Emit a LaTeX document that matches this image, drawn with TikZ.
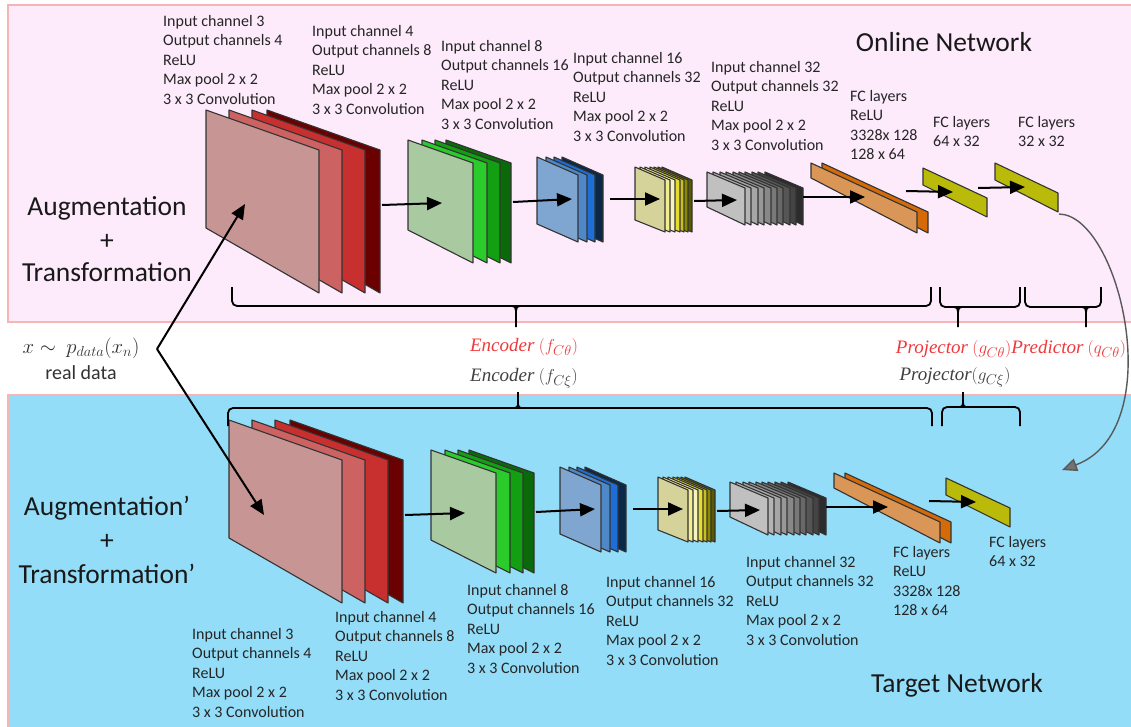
\documentclass[tikz,border=0pt]{standalone}
\usepackage{fontspec}
\setmainfont{Carlito}
\newfontfamily\lblfont{Liberation Serif}
\usetikzlibrary{arrows.meta}
\definecolor{pinkbg}{HTML}{FDEAFB}
\definecolor{pinkln}{HTML}{F5B5B5}
\definecolor{bluebg}{HTML}{93DDF8}
\definecolor{redlbl}{HTML}{F0383C}
\definecolor{greylbl}{HTML}{404040}
\definecolor{rA}{HTML}{C89595}\definecolor{rB}{HTML}{CC6262}\definecolor{rC}{HTML}{C83030}\definecolor{rD}{HTML}{6A0000}
\definecolor{gA}{HTML}{A9C9A1}\definecolor{gB}{HTML}{2BCB2B}\definecolor{gC}{HTML}{12A012}\definecolor{gD}{HTML}{0A6A0A}
\definecolor{bA}{HTML}{7EA6D0}\definecolor{bB}{HTML}{4E88C8}\definecolor{bC}{HTML}{1E6ED8}\definecolor{bD}{HTML}{0A2848}
\definecolor{yA}{HTML}{D5D29A}\definecolor{yB}{HTML}{F2EE90}\definecolor{yC}{HTML}{F5F3C0}\definecolor{yD}{HTML}{E6DC30}
\definecolor{yE}{HTML}{C8C020}\definecolor{yF}{HTML}{8A8A00}\definecolor{yG}{HTML}{5A5A00}
\definecolor{kA}{HTML}{C0C0C0}\definecolor{kB}{HTML}{B4B4B4}\definecolor{kC}{HTML}{A6A6A6}\definecolor{kD}{HTML}{989898}
\definecolor{kE}{HTML}{888888}\definecolor{kF}{HTML}{787878}\definecolor{kG}{HTML}{686868}\definecolor{kH}{HTML}{555555}
\definecolor{kI}{HTML}{444444}\definecolor{kJ}{HTML}{2C2C2C}
\definecolor{oA}{HTML}{D99657}\definecolor{oB}{HTML}{D46A08}
\definecolor{fcy}{HTML}{B9BA0A}
\newcommand\mkstack[2]{\foreach \dx/\cc in {#2} {\filldraw[plane, fill=\cc, xshift=\dx pt] #1;}}
\newcommand\mkbrace[6]{% L R top h tipx tipend
  \draw[bracel, rounded corners=5pt] (#1,#3) -- (#1,#4) -- (#2,#4) -- (#2,#3);
  \draw[bracel] (#5-7,#4) .. controls (#5,#4) .. (#5,#4/2+#6/2) -- (#5,#6);
  \draw[bracel] (#5+7,#4) .. controls (#5,#4) .. (#5,#4/2+#6/2);}
\begin{document}
\begin{tikzpicture}[x=1pt,y=-1pt,
  plane/.style={draw=black!80, line width=1.1pt, line join=round},
  conn/.style={line width=2pt, -{Triangle[length=15pt,width=13pt]}},
  bracel/.style={line width=1.8pt, black},
  small/.style={font=\fontsize{16}{19.5}\selectfont, align=left, anchor=north west, inner sep=0pt, text=black!85, execute at begin node={\rule{0pt}{12pt}}},
  big/.style={font=\fontsize{27.5}{32}\selectfont, anchor=base, inner sep=0pt, text=black!90},
  mlbl/.style={font=\fontsize{19}{22}\selectfont, inner sep=0pt}]
\useasboundingbox (0,0) rectangle (1131,726);
\fill[white] (0,0) rectangle (1131,726);
\filldraw[fill=pinkbg, draw=pinkln, line width=1.2pt] (8,5) rectangle (1133,322);
\filldraw[fill=bluebg, draw=pinkln, line width=1.2pt] (8,395) rectangle (1133,728);

% ---------- network drawing (used twice) ----------
\foreach \sx/\sy/\nm in {0/0/t, 23/310/b} {
\begin{scope}[shift={(\sx,\sy)}]
\mkstack{(206,110)--(319,150)--(319,293)--(206,228)--cycle}{61/rD,46/rC,23/rB,0/rA}
\mkstack{(408,140)--(473,163)--(473,263)--(408,230)--cycle}{38/gD,27/gC,14/gB,0/gA}
\mkstack{(537,157)--(578,175)--(578,242)--(537,224)--cycle}{25/bD,17/bC,9/bB,0/bA}
\mkstack{(635,167)--(665,180)--(665,232)--(635,220)--cycle}{27/yG,23/yF,19/yE,15/yD,10/yC,5/yB,0/yA}
\mkstack{(707,172)--(745,188)--(745,225)--(707,207)--cycle}{58/kJ,51/kI,45/kH,38/kG,32/kF,26/kE,19/kD,13/kC,6/kB,0/kA}
\mkstack{(811,163)--(917,212)--(917,233)--(811,178)--cycle}{11/oB,0/oA}
\coordinate (\nm a1s) at (382,205); \coordinate (\nm a1e) at (442,203);
\coordinate (\nm a2s) at (513,202); \coordinate (\nm a2e) at (572,199);
\coordinate (\nm a3s) at (610,199); \coordinate (\nm a3e) at (660,199);
\coordinate (\nm a4s) at (694,201); \coordinate (\nm a4e) at (737,200);
\coordinate (\nm a5s) at (803,197); \coordinate (\nm a5e) at (865,197);
\filldraw[plane, fill=fcy] (923,168)--(987,198)--(987,217)--(923,185)--cycle;
\coordinate (\nm a6s) at (906,191); \coordinate (\nm a6e) at (953,192);
\foreach \k in {1,...,6} {\draw[conn] (\nm a\k s) -- (\nm a\k e);}
\end{scope}}
% predictor (online only)
\filldraw[plane, fill=fcy] (995,163)--(1058,193)--(1058,212)--(995,180)--cycle;
\coordinate (ta7s) at (978,188); \coordinate (ta7e) at (1025,187);
\draw[conn] (ta7s) -- (ta7e);

% ---------- texts online ----------
\node[small] (t1) at (163,15) {Input channel 3\\Output channels 4\\ReLU\\Max pool 2 x 2\\3 x 3 Convolution};
\node[small] (t2) at (312,25) {Input channel 4\\Output channels 8\\ReLU\\Max pool 2 x 2\\3 x 3 Convolution};
\node[small] (t3) at (441,40) {Input channel 8\\Output channels 16\\ReLU\\Max pool 2 x 2\\3 x 3 Convolution};
\node[small] (t4) at (573,52) {Input channel 16\\Output channels 32\\ReLU\\Max pool 2 x 2\\3 x 3 Convolution};
\node[small] (t5) at (711,61) {Input channel 32\\Output channels 32\\ReLU\\Max pool 2 x 2\\3 x 3 Convolution};
\node[small] (t6) at (850,90) {FC layers\\ReLU\\3328x 128\\128 x 64};
\node[small] (t7) at (933,116) {FC layers\\64 x 32};
\node[small] (t8) at (1018,116) {FC layers\\32 x 32};
% ---------- texts target ----------
\node[small] (b1) at (192,628) {Input channel 3\\Output channels 4\\ReLU\\Max pool 2 x 2\\3 x 3 Convolution};
\node[small] (b2) at (335,611) {Input channel 4\\Output channels 8\\ReLU\\Max pool 2 x 2\\3 x 3 Convolution};
\node[small] (b3) at (467,584) {Input channel 8\\Output channels 16\\ReLU\\Max pool 2 x 2\\3 x 3 Convolution};
\node[small] (b4) at (606,576) {Input channel 16\\Output channels 32\\ReLU\\Max pool 2 x 2\\3 x 3 Convolution};
\node[small] (b5) at (746,556) {Input channel 32\\Output channels 32\\ReLU\\Max pool 2 x 2\\3 x 3 Convolution};
\node[small] (b6) at (893,546) {FC layers\\ReLU\\3328x 128\\128 x 64};
\node[small] (b7) at (989,536) {FC layers\\64 x 32};

% ---------- big labels ----------
\node[big] (aug1) at (107,215) {Augmentation};
\node[big] (plus1) at (107,249) {+};
\node[big] (tr1) at (107,281) {Transformation};
\node[big] (aug2) at (107,515) {Augmentation’};
\node[big] (plus2) at (107,549) {+};
\node[big] (tr2) at (107,583) {Transformation’};
\node[big] (online) at (944,51) {Online Network};
\node[big] (target) at (957,692) {Target Network};

% ---------- braces ----------
\mkbrace{232}{931}{287}{306}{516}{327}
\mkbrace{940}{1020}{287}{307}{958}{327}
\mkbrace{1025}{1101}{287}{307}{1086}{327}
\mkbrace{228}{932}{426}{408}{518}{392}
\mkbrace{942}{1020}{426}{407}{963}{392}

% ---------- middle labels ----------
\node[mlbl, text=redlbl] (enc1) at (524,347) {{\lblfont\itshape Encoder} $(f_{C\theta})$};
\node[mlbl, text=greylbl] (enc2) at (524,378) {{\lblfont\itshape Encoder} $(f_{C\xi})$};
\node[mlbl, text=redlbl] (pp1) at (1011,349) {{\lblfont\itshape Projector} $(g_{C\theta})${\lblfont\itshape Predictor} $(q_{C\theta})$};
\node[mlbl, text=greylbl] (pp2) at (955,377) {{\lblfont\itshape Projector}$(g_{C\xi})$};

\node[font=\fontsize{21}{24}\selectfont, inner sep=0pt, text=black!80] (xdata) at (81,348) {$x\sim\ p_{data}(x_n)$};
\node[font=\fontsize{20}{24}\selectfont, inner sep=0pt, text=black!80] (real) at (81,373) {real data};

% ---------- input connectors ----------
\coordinate (src) at (157,349);
\coordinate (inTop) at (245,204);
\coordinate (inBot) at (264,515);
\draw[conn] (src) -- (inTop);
\draw[conn] (src) -- (inBot);

% ---------- curved connector ----------
\coordinate (cs) at (1059,214);
\coordinate (ce) at (1062,470);
\draw[line width=1.4pt, draw=black!65, -{Triangle[length=15pt,width=13pt,fill=black!55]}] (cs) .. controls (1120,215) and (1170,430) .. (ce);
\end{tikzpicture}
\end{document}
